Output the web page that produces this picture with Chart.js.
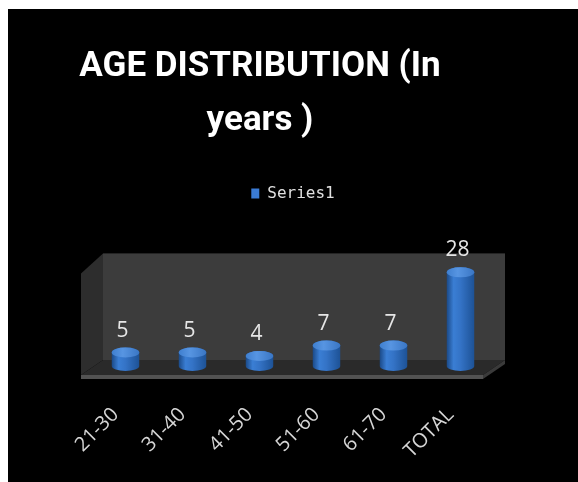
<!DOCTYPE html>
<html>
<head>
<meta charset="utf-8">
<script src="https://cdn.jsdelivr.net/npm/chart.js@4.4.1/dist/chart.umd.min.js"></script>
<style>
  html, body { margin: 0; padding: 0; background: #fff; }
  #wrap { position: absolute; left: 8px; top: 9px; width: 570px; height: 473px; background: #000; }
</style>
</head>
<body>
<div id="wrap"><canvas id="ageChart"></canvas></div>
<script>
const ageGroups = ['21-30', '31-40', '41-50', '51-60', '61-70', 'TOTAL']
const seriesValues = [5, 5, 4, 7, 7, 28]
const seriesName = 'Series1'
const titleLines = ['AGE DISTRIBUTION (In', 'years )']
const axisMax = 30

// back wall, side wall and floor drawn around the chart area
const box3d = {
  id: 'box3d',
  beforeDatasetsDraw(chart) {
    const ctx = chart.ctx
    const ca = chart.chartArea
    const back = { l: ca.left + 11, r: ca.right + 11, t: ca.top - 12, b: ca.bottom - 10 }
    const front = { l: ca.left - 11, r: ca.right - 11, t: ca.top + 8, b: ca.bottom + 5 }
    ctx.save()
    ctx.fillStyle = '#3c3c3c'
    ctx.fillRect(back.l, back.t, back.r - back.l, back.b - back.t)
    ctx.fillStyle = '#2d2d2d'
    ctx.beginPath()
    ctx.moveTo(front.l, front.t)
    ctx.lineTo(back.l, back.t)
    ctx.lineTo(back.l, back.b)
    ctx.lineTo(front.l, front.b)
    ctx.closePath()
    ctx.fill()
    ctx.fillStyle = '#2a2a2a'
    ctx.beginPath()
    ctx.moveTo(back.l, back.b)
    ctx.lineTo(back.r, back.b)
    ctx.lineTo(front.r, front.b)
    ctx.lineTo(front.l, front.b)
    ctx.closePath()
    ctx.fill()
    ctx.fillStyle = '#525252'
    ctx.fillRect(front.l, front.b, front.r - front.l, 4)
    ctx.fillStyle = '#3a3a3a'
    ctx.beginPath()
    ctx.moveTo(front.r, front.b)
    ctx.lineTo(back.r, back.b)
    ctx.lineTo(back.r, back.b + 4)
    ctx.lineTo(front.r, front.b + 4)
    ctx.closePath()
    ctx.fill()
    ctx.restore()
  },
  // cylinders instead of flat bars, plus the value labels
  beforeDatasetDraw(chart, args) {
    const ctx = chart.ctx
    const meta = args.meta
    const values = chart.data.datasets[args.index].data
    ctx.save()
    meta.data.forEach((bar, i) => {
      const { x, y, base, width } = bar.getProps(['x', 'y', 'base', 'width'], true)
      const rx = width / 2
      const ry = 5
      const l = x - rx
      const r = x + rx
      const yb = base - 4
      const grad = ctx.createLinearGradient(l, 0, r, 0)
      grad.addColorStop(0, '#1b4a88')
      grad.addColorStop(0.25, '#3a7ed4')
      grad.addColorStop(0.5, '#3473c6')
      grad.addColorStop(1, '#1d5296')
      ctx.fillStyle = grad
      ctx.beginPath()
      ctx.moveTo(l, y)
      ctx.lineTo(l, yb)
      ctx.ellipse(x, yb, rx, ry, 0, Math.PI, 0, true)
      ctx.lineTo(r, y)
      ctx.ellipse(x, y, rx, ry, 0, 0, Math.PI, true)
      ctx.closePath()
      ctx.fill()
      const capGrad = ctx.createLinearGradient(l, 0, r, 0)
      capGrad.addColorStop(0, '#3f7fcf')
      capGrad.addColorStop(0.4, '#5795e2')
      capGrad.addColorStop(1, '#3a76c4')
      ctx.fillStyle = capGrad
      ctx.beginPath()
      ctx.ellipse(x, y, rx, ry, 0, 0, Math.PI * 2)
      ctx.fill()

      ctx.fillStyle = '#e6e6e6'
      ctx.font = '21px "Open Sans"'
      ctx.textAlign = 'center'
      ctx.textBaseline = 'alphabetic'
      ctx.fillText(String(values[i]), x - 3, y - ry - 11)
    })
    ctx.restore()
    return false
  }
}

const hiddenAxis = {
  display: true,
  ticks: { display: false },
  grid: { display: false },
  border: { display: false }
}

new Chart(document.getElementById('ageChart'), {
  type: 'bar',
  data: {
    labels: ageGroups,
    datasets: [{
      label: seriesName,
      data: seriesValues,
      backgroundColor: '#3a7bd5',
      borderWidth: 0,
      barPercentage: 0.41,
      categoryPercentage: 1
    }]
  },
  options: {
    responsive: true,
    maintainAspectRatio: false,
    animation: false,
    layout: { padding: { left: 0, right: 66, top: 0, bottom: 0 } },
    plugins: {
      tooltip: { enabled: false },
      title: {
        display: true,
        text: titleLines,
        color: '#ffffff',
        font: { family: 'Roboto', size: 35, weight: 'bold', lineHeight: 1.52 },
        padding: { top: 32, bottom: 28 }
      },
      legend: {
        fullSize: false,
        labels: {
          color: '#e0e0e0',
          boxWidth: 8,
          boxHeight: 10,
          font: { family: '"DejaVu Sans Mono"', size: 16 }
        }
      }
    },
    scales: {
      x: {
        grid: { display: false, drawTicks: false },
        border: { display: false },
        ticks: {
          color: '#d6d6d6',
          font: { family: '"Open Sans"', size: 20 },
          minRotation: 45,
          maxRotation: 45,
          padding: 33,
          labelOffset: -10
        },
        afterFit: scale => { scale.height = 112 }
      },
      xTop: {
        ...hiddenAxis,
        type: 'category',
        position: 'top',
        afterFit: scale => { scale.height = 54 }
      },
      y: {
        ...hiddenAxis,
        min: 0,
        max: axisMax,
        afterFit: scale => { scale.width = 84 }
      },
      yRight: {
        ...hiddenAxis,
        position: 'right',
        afterFit: scale => { scale.width = 18 }
      }
    }
  },
  plugins: [box3d]
})
</script>
</body>
</html>
